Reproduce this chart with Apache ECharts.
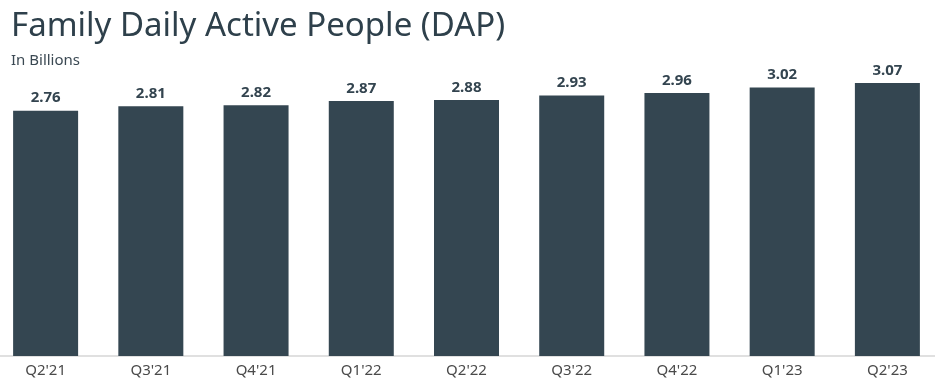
<!DOCTYPE html>
<html><head><meta charset="utf-8">
<script src="https://cdn.jsdelivr.net/npm/echarts@6/dist/echarts.min.js"></script>
<style>html,body{margin:0;padding:0;background:#fff;overflow:hidden;width:935px;height:386px}#c{width:947px;height:386px;margin-left:-7px}</style>
</head><body><div id="c"></div>
<script>
var categories = ["Q2'21","Q3'21","Q4'21","Q1'22","Q2'22","Q3'22","Q4'22","Q1'23","Q2'23"];
var values = [2.76, 2.81, 2.82, 2.87, 2.88, 2.93, 2.96, 3.02, 3.07];
var titleText = "Family Daily Active People (DAP)";
var subtitleText = "In Billions";

var chart = echarts.init(document.getElementById('c'));
chart.setOption({
  animation: false,
  title: {
    text: titleText, subtext: subtitleText, left: 13, top: 5, itemGap: 10,
    textStyle: {fontFamily: 'Noto Sans', fontSize: 33, fontWeight: 'normal', color: '#2e404b'},
    subtextStyle: {fontFamily: 'Noto Sans', fontSize: 15, color: '#3a4852'}
  },
  grid: {left: 0, right: 0, top: 36, bottom: 30, containLabel: false},
  xAxis: {
    type: 'category', data: categories,
    axisLine: {lineStyle: {color: '#d6d6d6', width: 1.5}},
    axisTick: {show: false},
    axisLabel: {fontFamily: 'Noto Sans', fontSize: 15, color: '#4a4a4a', margin: 7}
  },
  yAxis: {type: 'value', min: 0, max: 3.6, show: false, splitLine: {show: false}},
  series: [{
    type: 'bar', data: values, barWidth: 65,
    itemStyle: {color: '#344651'},
    label: {show: true, position: 'top', distance: 5, formatter: function(p){return p.value.toFixed(2);},
      fontFamily: 'Noto Sans', fontSize: 15, fontWeight: 'bold', color: '#33444f'}
  }]
});
</script></body></html>
